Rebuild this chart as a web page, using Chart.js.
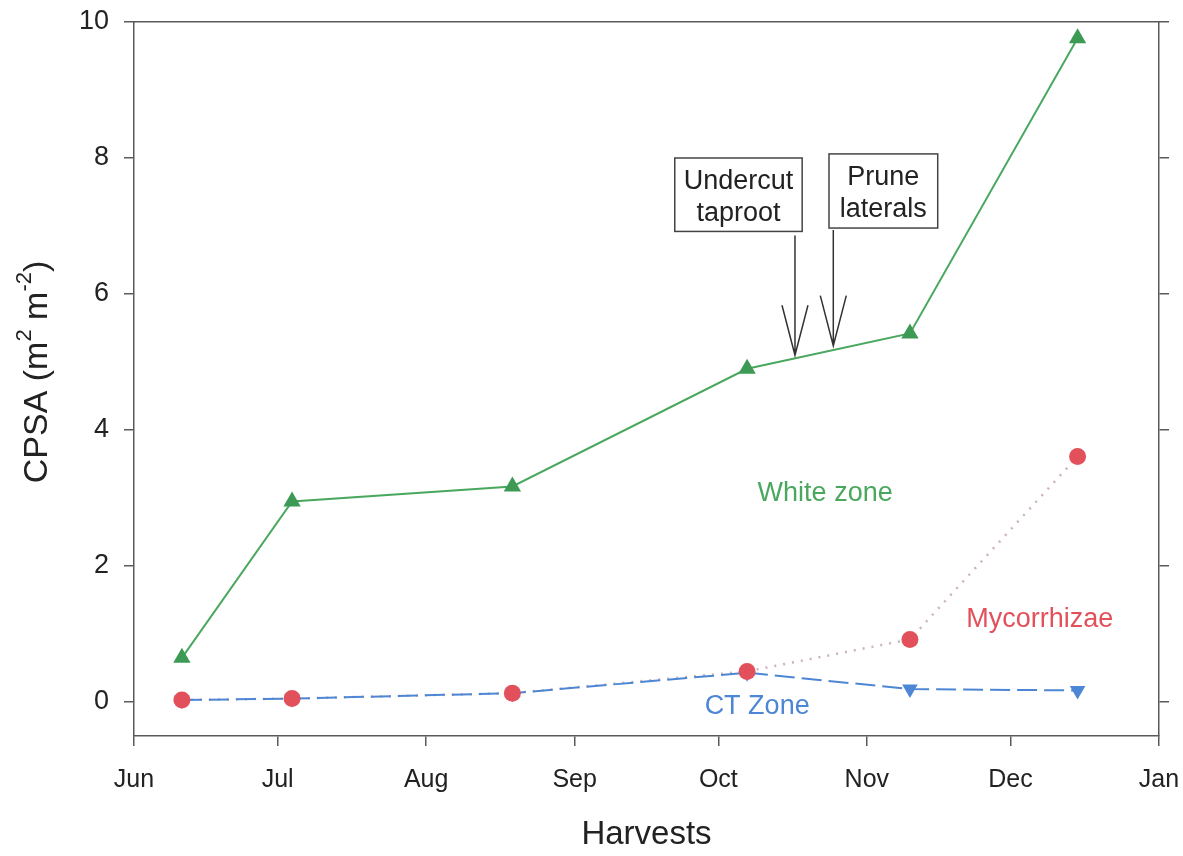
<!DOCTYPE html>
<html>
<head>
<meta charset="utf-8">
<script src="https://cdn.jsdelivr.net/npm/chart.js@4.4.1/dist/chart.umd.min.js"></script>
<style>
  html, body { margin: 0; padding: 0; background: #ffffff; }
  #c { display: block; }
</style>
</head>
<body>
<canvas id="c" width="1183" height="856"></canvas>
<script>
// Month axis: day offsets counted from 1 June
const monthLabels = ['Jun', 'Jul', 'Aug', 'Sep', 'Oct', 'Nov', 'Dec', 'Jan'];
const monthStartDay = [0, 30, 61, 92, 122, 153, 183, 214];

// Harvest dates (days after 1 June) and cumulative projected surface area
const harvestDay = [10, 33, 79, 128, 162, 197];
const whiteZone = [0.65, 2.95, 3.17, 4.90, 5.42, 9.76];
const mycorrhizae = [0.03, 0.05, 0.13, 0.45, 0.92, 3.61];
const ctZone = [0.03, 0.05, 0.13, 0.43, 0.19, 0.17];

const yTicks = [0, 2, 4, 6, 8, 10];

// Field operations marked with arrows
const eventText = [['Undercut', 'taproot'], ['Prune', 'laterals']];
const eventDay = [138, 146];
const eventTop = [6.86, 6.94];
const eventTip = [5.10, 5.24];
const eventBoxDays = [[112.9, 139.5], [145.1, 167.8]];
const eventBoxVals = [[8.00, 6.92], [8.06, 6.97]];

// Series name labels placed inside the plot
const seriesNames = ['White zone', 'Mycorrhizae', 'CT Zone'];
const seriesNameDay = [144.3, 189.1, 130.1];
const seriesNameVal = [3.06, 1.21, -0.06];

const FONT = '"Liberation Sans", Arial, Helvetica, sans-serif';
const AXIS = '#5a5a5a';
const GREEN = '#4aa75e';
const RED = '#e2515b';
const BLUE = '#4d86d4';

const pts = (vals) => harvestDay.map((d, i) => ({ x: d, y: vals[i] }));

// keep the plot frame fixed: no extra room reserved for overhanging tick labels
const fixSize = (w, h) => (s) => {
  if (w !== null) s.width = w;
  if (h !== null) s.height = h;
  s.paddingTop = 0; s.paddingBottom = 0; s.paddingLeft = 0; s.paddingRight = 0;
};

const decorations = {
  id: 'decorations',
  afterDatasetsDraw(chart) {
    const { ctx, scales: { x, y } } = chart;
    ctx.save();
    // event boxes and arrows
    eventText.forEach((lines, i) => {
      const l = x.getPixelForValue(eventBoxDays[i][0]);
      const r = x.getPixelForValue(eventBoxDays[i][1]);
      const t = y.getPixelForValue(eventBoxVals[i][0]);
      const b = y.getPixelForValue(eventBoxVals[i][1]);
      ctx.fillStyle = '#ffffff';
      ctx.fillRect(l, t, r - l, b - t);
      ctx.strokeStyle = '#444';
      ctx.lineWidth = 1.5;
      ctx.strokeRect(l, t, r - l, b - t);
      ctx.fillStyle = '#222';
      ctx.font = '27px ' + FONT;
      ctx.textAlign = 'center';
      ctx.textBaseline = 'middle';
      const cx = (l + r) / 2, cy = (t + b) / 2;
      ctx.fillText(lines[0], cx, cy - 13);
      ctx.fillText(lines[1], cx, cy + 19);

      const ax = x.getPixelForValue(eventDay[i]);
      const a0 = y.getPixelForValue(eventTop[i]);
      const a1 = y.getPixelForValue(eventTip[i]);
      ctx.strokeStyle = '#333';
      ctx.lineWidth = 1.5;
      ctx.beginPath();
      ctx.moveTo(ax, a0);
      ctx.lineTo(ax, a1);
      ctx.moveTo(ax - 13, a1 - 50);
      ctx.lineTo(ax, a1);
      ctx.lineTo(ax + 13, a1 - 50);
      ctx.stroke();
    });

    // series names
    const colors = [GREEN, RED, BLUE];
    ctx.font = '27px ' + FONT;
    ctx.textAlign = 'center';
    ctx.textBaseline = 'middle';
    seriesNames.forEach((n, i) => {
      ctx.fillStyle = colors[i];
      ctx.fillText(n, x.getPixelForValue(seriesNameDay[i]), y.getPixelForValue(seriesNameVal[i]));
    });

    // axis titles
    const area = chart.chartArea;
    ctx.fillStyle = '#222';
    ctx.font = '33px ' + FONT;
    ctx.fillText('Harvests', (area.left + area.right) / 2, 835);

    ctx.translate(38, 372);
    ctx.rotate(-Math.PI / 2);
    const big = '34px ' + FONT, small = '22px ' + FONT;
    const parts = [['CPSA (m', big, 0], ['2', small, -13], [' m', big, 0], ['-2', small, -13], [')', big, 0]];
    let total = 0;
    parts.forEach(p => { ctx.font = p[1]; total += ctx.measureText(p[0]).width; });
    let px = -total / 2;
    ctx.textAlign = 'left';
    parts.forEach(p => {
      ctx.font = p[1];
      ctx.fillText(p[0], px, p[2]);
      px += ctx.measureText(p[0]).width;
    });
    ctx.restore();
  }
};

const tickGrid = {
  display: true,
  drawOnChartArea: false,
  drawTicks: true,
  tickLength: 10,
  color: AXIS,
  lineWidth: 1.5
};
const borderOpts = { display: true, color: AXIS, width: 1.5 };

new Chart(document.getElementById('c'), {
  type: 'line',
  data: {
    datasets: [
      {
        label: 'Mycorrhizae markers',
        data: pts(mycorrhizae),
        showLine: false,
        pointStyle: 'circle',
        pointRadius: 8.5,
        pointBackgroundColor: RED,
        pointBorderColor: RED,
        pointBorderWidth: 0,
        order: 0
      },
      {
        label: 'CT Zone',
        data: pts(ctZone),
        borderColor: BLUE,
        borderWidth: 2,
        borderDash: [20, 7],
        pointStyle: 'triangle',
        rotation: 180,
        pointRadius: 9,
        pointBackgroundColor: BLUE,
        pointBorderColor: BLUE,
        pointBorderWidth: 0,
        order: 1
      },
      {
        label: 'Mycorrhizae',
        data: pts(mycorrhizae),
        borderColor: '#cbb3b7',
        borderWidth: 2.5,
        borderDash: [2, 7],
        pointRadius: 0,
        order: 2
      },
      {
        label: 'White zone',
        data: pts(whiteZone),
        borderColor: GREEN,
        borderWidth: 2,
        pointStyle: 'triangle',
        pointRadius: 10,
        pointBackgroundColor: '#3d9a55',
        pointBorderColor: '#3d9a55',
        pointBorderWidth: 0,
        order: 3
      }
    ]
  },
  options: {
    responsive: false,
    animation: false,
    events: [],
    layout: { padding: { top: 22, left: 0, right: 0, bottom: 0 } },
    plugins: { legend: { display: false }, tooltip: { enabled: false } },
    elements: { line: { tension: 0 } },
    scales: {
      x: {
        type: 'linear',
        position: 'bottom',
        min: 0,
        max: 214,
        afterBuildTicks: s => { s.ticks = monthStartDay.map(v => ({ value: v })); },
        afterFit: fixSize(null, 120),
        ticks: {
          callback: (v, i) => monthLabels[i],
          color: '#222',
          font: { family: FONT, size: 25 },
          padding: 19,
          maxRotation: 0,
          autoSkip: false
        },
        grid: tickGrid,
        border: borderOpts
      },
      xTop: {
        type: 'linear',
        position: 'top',
        min: 0,
        max: 214,
        afterFit: fixSize(null, 0),
        ticks: { display: false },
        grid: { display: false },
        border: borderOpts
      },
      y: {
        type: 'linear',
        position: 'left',
        min: -0.5,
        max: 10,
        afterBuildTicks: s => { s.ticks = yTicks.map(v => ({ value: v })); },
        afterFit: fixSize(134, null),
        ticks: {
          color: '#222',
          font: { family: FONT, size: 27 },
          padding: 15
        },
        grid: tickGrid,
        border: borderOpts
      },
      yRight: {
        type: 'linear',
        position: 'right',
        min: -0.5,
        max: 10,
        afterBuildTicks: s => { s.ticks = yTicks.map(v => ({ value: v })); },
        afterFit: fixSize(24, null),
        ticks: { display: false },
        grid: tickGrid,
        border: borderOpts
      }
    }
  },
  plugins: [decorations]
});
</script>
</body>
</html>
